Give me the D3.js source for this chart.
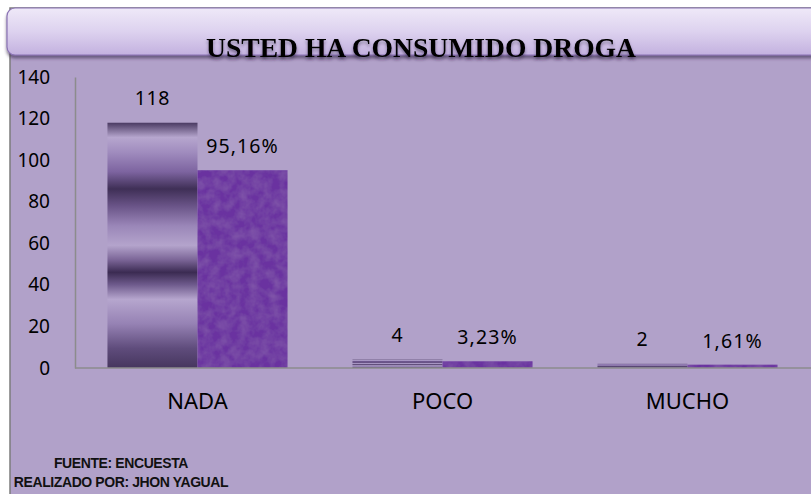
<!DOCTYPE html>
<html>
<head>
<meta charset="utf-8">
<script src="https://cdn.jsdelivr.net/npm/d3@7"></script>
<style>
  body { margin: 0; background: #fff; }
  svg { display: block; }
</style>
</head>
<body>
<svg id="chart" width="811" height="494"></svg>
<script>
// data
const categories = ["NADA", "POCO", "MUCHO"];
const counts = [118, 4, 2];
const percents = [95.16, 3.23, 1.61];
const yTicks = [0, 20, 40, 60, 80, 100, 120, 140];
const title = "USTED HA CONSUMIDO DROGA";
const footer = ["FUENTE: ENCUESTA", "REALIZADO  POR: JHON YAGUAL"];

const W = 811, H = 494;
const plot = {left: 75, right: 810, top: 77, bottom: 368};

const svg = d3.select("#chart");
const defs = svg.append("defs");

// title box gradient
const tg = defs.append("linearGradient").attr("id", "titleGrad")
    .attr("x1", 0).attr("y1", 0).attr("x2", 0).attr("y2", 1);
tg.append("stop").attr("offset", 0).attr("stop-color", "#efe9f8");
tg.append("stop").attr("offset", 0.5).attr("stop-color", "#ddd2ef");
tg.append("stop").attr("offset", 1).attr("stop-color", "#c3b1df");

const shadow = defs.append("filter").attr("id", "shadow")
    .attr("x", "-5%").attr("y", "-20%").attr("width", "110%").attr("height", "160%");
shadow.append("feDropShadow").attr("dx", 0).attr("dy", 3).attr("stdDeviation", 1.5)
    .attr("flood-color", "#3a2e50").attr("flood-opacity", 0.6);

const textShadow = defs.append("filter").attr("id", "tshadow")
    .attr("x", "-5%").attr("y", "-30%").attr("width", "110%").attr("height", "180%");
textShadow.append("feDropShadow").attr("dx", 0).attr("dy", 2.5).attr("stdDeviation", 1.5)
    .attr("flood-color", "#2a1f3a").attr("flood-opacity", 0.5);

// metallic stripes for the count series
const mg = defs.append("linearGradient").attr("id", "metal")
    .attr("x1", 0).attr("y1", 0).attr("x2", 0).attr("y2", 1);
[
    [0, "#4a3a62"], [0.06, "#b6a6ce"], [0.12, "#a08cbe"], [0.2, "#7d64a0"],
    [0.27, "#3f2f56"], [0.34, "#6a5488"], [0.42, "#9a86b8"], [0.5, "#b4a4cc"],
    [0.56, "#7a6496"], [0.61, "#3b2b52"], [0.66, "#6e5a8c"], [0.72, "#b6a6ce"],
    [0.82, "#9682b4"], [0.92, "#5f4c7c"], [1, "#46365e"]
].forEach(s => mg.append("stop").attr("offset", s[0]).attr("stop-color", s[1]));

// textured purple for the percent series
const tex = defs.append("filter").attr("id", "texture")
    .attr("x", 0).attr("y", 0).attr("width", 1).attr("height", 1);
tex.append("feTurbulence").attr("type", "fractalNoise").attr("baseFrequency", 0.1)
    .attr("numOctaves", 3).attr("seed", 7).attr("result", "noise");
tex.append("feColorMatrix").attr("in", "noise").attr("type", "matrix")
    .attr("values", "0 0 0 0 0.30  0 0 0 0 0.16  0 0 0 0 0.45  0 0 0 0.7 -0.22")
    .attr("result", "tint");
tex.append("feComposite").attr("in", "tint").attr("in2", "SourceGraphic")
    .attr("operator", "atop");

// chart background
svg.append("rect").attr("x", 10).attr("y", 8).attr("width", W).attr("height", H)
    .attr("fill", "#b1a1c9").attr("stroke", "#7c7c7c").attr("stroke-width", 1.5);

// title box
svg.append("rect").attr("x", 7).attr("y", 8).attr("width", W + 20).attr("height", 47)
    .attr("rx", 8).attr("fill", "url(#titleGrad)")
    .attr("stroke", "#8a72b4").attr("stroke-width", 1.2)
    .attr("filter", "url(#shadow)");

svg.append("text").attr("x", 421).attr("y", 57)
    .attr("text-anchor", "middle")
    .attr("font-family", "'Liberation Serif', 'Times New Roman', serif")
    .attr("font-weight", "bold").attr("font-size", 27)
    .attr("textLength", 430).attr("lengthAdjust", "spacingAndGlyphs")
    .attr("fill", "#000").attr("filter", "url(#tshadow)")
    .text(title);

// scales
const x = d3.scaleBand().domain(categories)
    .range([plot.left, plot.right]).paddingInner(0.265).paddingOuter(0.1325);
const xs = d3.scaleBand().domain(["count", "pct"]).range([0, x.bandwidth()]);
const y = d3.scaleLinear().domain([0, 140]).range([plot.bottom, plot.top]);

const rows = categories.map((c, i) => ({cat: c, count: counts[i], pct: percents[i]}));

// bars
const g = svg.append("g");
g.selectAll("rect.count").data(rows).join("rect").attr("class", "count")
    .attr("x", d => x(d.cat) + xs("count"))
    .attr("y", d => y(d.count))
    .attr("width", xs.bandwidth())
    .attr("height", d => y(0) - y(d.count))
    .attr("fill", "url(#metal)");

g.selectAll("rect.pct").data(rows).join("rect").attr("class", "pct")
    .attr("x", d => x(d.cat) + xs("pct"))
    .attr("y", d => y(d.pct))
    .attr("width", xs.bandwidth())
    .attr("height", d => y(0) - y(d.pct))
    .attr("fill", "#6a33a0")
    .attr("filter", "url(#texture)");

const labelFont = "'Noto Sans', 'Open Sans', sans-serif";
const fmtPct = v => v.toFixed(2).replace(".", ",") + "%";

g.selectAll("text.count").data(rows).join("text").attr("class", "count")
    .attr("x", d => x(d.cat) + xs("count") + xs.bandwidth() / 2)
    .attr("y", d => y(d.count) - 18)
    .attr("text-anchor", "middle").attr("font-family", labelFont)
    .attr("font-size", 19.5).attr("letter-spacing", 0.6).attr("fill", "#000")
    .text(d => d.count);

g.selectAll("text.pct").data(rows).join("text").attr("class", "pct")
    .attr("x", d => x(d.cat) + xs("pct") + xs.bandwidth() / 2)
    .attr("y", d => y(d.pct) - 17)
    .attr("text-anchor", "middle").attr("font-family", labelFont)
    .attr("font-size", 19.5).attr("letter-spacing", 1.1).attr("fill", "#000")
    .text(d => fmtPct(d.pct));

// axes
const yAxis = svg.append("g").attr("transform", `translate(${plot.left},0)`)
    .call(d3.axisLeft(y).tickValues(yTicks).tickSize(0).tickPadding(25));
yAxis.select(".domain").attr("stroke", "#8c8c8c").attr("stroke-width", 1.5);
yAxis.selectAll("text").attr("font-family", labelFont).attr("font-size", 19)
    .attr("fill", "#000");

const xAxis = svg.append("g").attr("transform", `translate(0,${plot.bottom})`)
    .call(d3.axisBottom(x).tickSize(0).tickPadding(0));
xAxis.select(".domain").attr("d", `M${plot.left},0H${W}`)
    .attr("stroke", "#8c8c8c").attr("stroke-width", 1.5);
xAxis.selectAll("text").attr("dy", null).attr("y", 41)
    .attr("font-family", labelFont).attr("font-size", 22)
    .attr("fill", "#000");

// footer
svg.append("g").selectAll("text").data(footer).join("text")
    .attr("x", 121).attr("y", (d, i) => 468 + i * 19)
    .attr("text-anchor", "middle")
    .attr("font-family", "'Liberation Sans Narrow', 'Liberation Sans', Arial, sans-serif")
    .attr("font-weight", "bold").attr("font-size", 14)
    .attr("letter-spacing", -0.4)
    .attr("fill", "#111")
    .text(d => d);
</script>
</body>
</html>
